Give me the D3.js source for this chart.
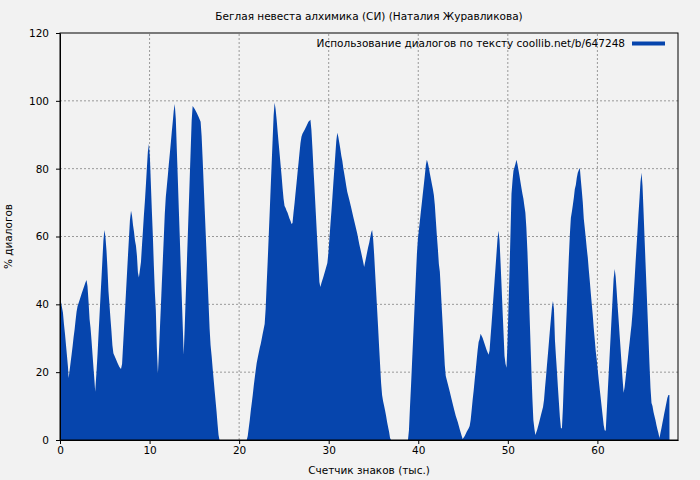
<!DOCTYPE html>
<html>
<head>
<meta charset="utf-8">
<script src="https://cdn.jsdelivr.net/npm/d3@7"></script>
<style>
body { margin: 0; background: #f2f2f2; }
text { font-family: "DejaVu Sans", sans-serif; fill: #000; }
.grid line { stroke: #999; stroke-dasharray: 2,2; stroke-width: 1; }
.axis path, .axis line { stroke: #000; }
</style>
</head>
<body>
<svg id="chart" width="700" height="480"></svg>
<script>
var title = "Беглая невеста алхимика (СИ) (Наталия Журавликова)";
var legendLabel = "Использование диалогов по тексту coollib.net/b/647248";
var xLabel = "Счетчик знаков (тыс.)";
var yLabel = "% диалогов";
var xTicks = [0, 10, 20, 30, 40, 50, 60];
var yTicks = [0, 20, 40, 60, 80, 100, 120];

// [тыс. знаков, % диалогов]
var points = [
	[0, 44.0], [0.11, 40.7], [0.33, 37.5], [0.44, 34.2], [0.56, 31.2], [0.67, 27.9], [0.78, 24.8], [0.89, 21.5],
	[0.96, 18.3], [1.07, 20.4], [1.19, 23], [1.30, 25.3], [1.41, 27.7], [1.52, 30.4], [1.63, 32.6], [1.74, 35.3],
	[1.85, 37.8], [1.96, 39.4], [2.19, 41.3], [2.41, 43.1], [2.63, 44.8], [2.85, 46.5], [2.96, 47.2], [3.07, 45.3],
	[3.19, 40.7], [3.30, 35.7], [3.41, 33], [3.52, 29.3], [3.63, 25.3], [3.74, 21.2], [3.85, 17.4], [3.93, 14.2],
	[4.07, 19.9], [4.19, 25.3], [4.30, 31], [4.41, 36.6], [4.52, 42.2], [4.63, 47.7], [4.74, 53.4], [4.85, 59],
	[4.96, 61.9], [5.07, 60], [5.19, 55.9], [5.30, 50.4], [5.41, 43.9], [5.52, 40], [5.63, 36], [5.74, 32.2],
	[5.85, 27.9], [5.96, 25.6], [6.19, 24.2], [6.41, 22.8], [6.63, 21.5], [6.81, 20.9], [6.93, 22.4], [7.04, 27.7],
	[7.15, 33], [7.26, 38.3], [7.37, 43.7], [7.48, 49.1], [7.59, 54.4], [7.70, 59.6], [7.81, 64.9], [7.93, 67.6],
	[8.04, 66.1], [8.15, 63.4], [8.26, 61.4], [8.37, 58.8], [8.48, 57.3], [8.59, 54.3], [8.70, 49.4], [8.81, 47.9],
	[9.04, 52.5], [9.15, 57.3], [9.26, 61.7], [9.37, 66.4], [9.48, 70.5], [9.59, 75.2], [9.70, 80.2], [9.81, 85],
	[9.93, 87.3], [10.04, 83.2], [10.15, 75.2], [10.26, 67.3], [10.37, 60], [10.48, 51.3], [10.59, 43.7], [10.70, 38.2],
	[10.81, 27.4], [10.93, 19.6], [11.04, 25.6], [11.15, 32.6], [11.26, 39.2], [11.37, 46.3], [11.48, 53], [11.59, 59.8],
	[11.70, 66.7], [11.81, 71.6], [11.93, 74.9], [12.04, 78], [12.15, 81.4], [12.26, 84.4], [12.37, 87.6], [12.48, 90.8],
	[12.59, 93.8], [12.70, 97.1], [12.81, 99.1], [12.93, 94.7], [13.04, 85.8], [13.15, 77.3], [13.26, 68.5], [13.37, 60],
	[13.48, 51.3], [13.59, 42.5], [13.70, 33.9], [13.81, 25.1], [13.93, 33.6], [14.04, 42.5], [14.15, 51], [14.26, 59.6],
	[14.37, 68.2], [14.48, 76.9], [14.59, 85.5], [14.70, 94.1], [14.81, 98.5], [15.04, 97.6], [15.26, 96.5], [15.48, 95.2],
	[15.70, 93.8], [15.81, 89.7], [15.93, 82.6], [16.04, 75.5], [16.15, 68.4], [16.26, 61.4], [16.37, 54.4], [16.48, 47.2],
	[16.59, 40.1], [16.70, 33], [16.81, 28], [16.93, 24.8], [17.04, 21.2], [17.15, 18], [17.26, 14.7], [17.37, 11.5],
	[17.48, 8.3], [17.59, 4.7], [17.70, 1.5], [17.81, 0],
	[20.85, 0], [20.96, 1.2], [21.07, 3.5], [21.19, 5.9], [21.30, 8.6], [21.41, 10.9], [21.52, 13.3], [21.63, 15.9], [21.74, 18.3],
	[21.85, 20.6], [21.96, 22.7], [22.07, 24.2], [22.19, 25.7], [22.30, 27.1], [22.41, 28.3], [22.52, 29.8], [22.63, 31.3],
	[22.74, 32.7], [22.85, 34.2], [22.96, 38.6], [23.07, 45.6], [23.19, 52.8], [23.30, 59.9], [23.41, 67], [23.52, 74.3],
	[23.63, 81.4], [23.74, 88.5], [23.85, 95.6], [23.96, 99.4], [24.07, 97.6], [24.19, 94.4], [24.30, 90.9], [24.41, 87.6],
	[24.52, 84.4], [24.63, 81.1], [24.74, 77.9], [24.85, 74.3], [24.96, 71.1], [25.07, 69], [25.19, 68.4], [25.30, 67.6],
	[25.41, 67], [25.52, 66.1], [25.63, 65.2], [25.74, 64.6], [25.85, 63.7], [25.96, 64], [26.07, 67], [26.19, 69.9],
	[26.30, 72.9], [26.41, 75.8], [26.52, 78.8], [26.63, 81.7], [26.74, 84.7], [26.85, 87.6], [26.96, 89.4], [27.07, 90.3],
	[27.30, 91.4], [27.52, 92.6], [27.74, 93.8], [27.96, 94.4], [28.07, 91.4], [28.19, 85.8], [28.30, 79.9], [28.41, 74.6],
	[28.52, 69], [28.63, 63.4], [28.74, 57.8], [28.85, 52.2], [28.96, 46.6], [29.07, 45.1], [29.19, 46.3], [29.41, 48.1],
	[29.63, 50.1], [29.85, 52.2], [29.96, 54.9], [30.07, 59], [30.19, 63.4], [30.30, 67.3], [30.41, 71.4], [30.52, 75.8],
	[30.63, 79.9], [30.74, 84.1], [30.85, 88.2], [30.96, 90.6], [31.07, 89.4], [31.19, 87.6], [31.30, 85.8], [31.41, 83.8],
	[31.52, 82.3], [31.63, 80.2], [31.74, 78.5], [31.85, 76.7], [31.96, 74.9], [32.07, 73.2], [32.30, 70.8], [32.52, 68.4],
	[32.74, 65.8], [32.96, 63.4], [33.19, 60.8], [33.41, 57.8], [33.63, 55.2], [33.85, 52.5], [33.96, 51], [34.07, 52.5],
	[34.19, 54], [34.30, 55.5], [34.41, 56.9], [34.52, 58.1], [34.63, 59.6], [34.74, 61.1], [34.85, 61.9], [34.96, 59.3],
	[35.07, 54.9], [35.19, 49], [35.30, 43.7], [35.41, 38.3], [35.52, 33], [35.63, 27.4], [35.74, 22.1], [35.85, 16.8],
	[35.96, 13.3], [36.07, 11.5], [36.19, 10], [36.30, 8.6], [36.41, 7.1], [36.52, 5.3], [36.63, 3.8], [36.74, 2.4],
	[36.85, 0.6], [36.96, 0],
	[38.85, 0], [38.96, 2.9], [39.07, 9.4], [39.19, 15.9], [39.30, 22.4], [39.41, 28.9], [39.52, 35.4], [39.63, 41.9], [39.74, 48.4],
	[39.85, 54.9], [39.96, 59.3], [40.07, 61.9], [40.19, 64.9], [40.30, 67.6], [40.41, 70.2], [40.52, 72.9], [40.63, 75.5],
	[40.74, 78.2], [40.85, 81.1], [40.96, 82.6], [41.07, 81.7], [41.19, 80.2], [41.30, 78.5], [41.41, 77], [41.52, 75.5],
	[41.63, 74], [41.74, 72.2], [41.85, 69.3], [41.96, 64.9], [42.07, 60.5], [42.19, 56.3], [42.30, 51.9], [42.41, 49.6],
	[42.52, 44.2], [42.63, 38.6], [42.74, 33.3], [42.85, 27.7], [42.96, 22.1], [43.07, 18.9], [43.30, 16.5], [43.52, 14.2],
	[43.74, 11.8], [43.96, 9.4], [44.19, 7.1], [44.41, 5.3], [44.63, 3.2], [44.85, 1.2], [44.96, 0.3], [45.19, 1.2],
	[45.41, 2.4], [45.63, 3.5], [45.74, 4.1], [45.85, 5.9], [45.96, 8.8], [46.07, 11.8], [46.19, 14.7], [46.30, 17.7],
	[46.41, 20.6], [46.52, 23.6], [46.63, 26.5], [46.74, 28.9], [46.85, 29.8], [46.96, 31.3], [47.19, 30.1], [47.41, 28.3],
	[47.63, 26.5], [47.85, 25.1], [47.96, 26.3], [48.07, 30.4], [48.19, 34.5], [48.30, 38.6], [48.41, 42.8], [48.52, 46.9],
	[48.63, 51], [48.74, 55.2], [48.85, 59.3], [48.96, 61.7], [49.07, 59], [49.19, 52.2], [49.30, 45.4], [49.41, 38.3],
	[49.52, 31.6], [49.63, 24.8], [49.74, 22.5], [49.85, 21.3], [49.96, 28.3], [50.07, 38.6], [50.19, 49.9], [50.30, 61.1],
	[50.41, 72.6], [50.52, 76.4], [50.63, 79.4], [50.85, 81.4], [50.96, 82.6], [51.07, 81.4], [51.19, 79.6], [51.30, 77.9],
	[51.41, 76.1], [51.52, 74.3], [51.63, 72.6], [51.74, 71.1], [51.85, 69], [51.96, 67], [52.07, 62.5], [52.19, 55.5],
	[52.30, 47.2], [52.41, 38.3], [52.52, 29.5], [52.63, 20.6], [52.74, 12.4], [52.85, 5.9], [52.96, 3.5], [53.07, 1.5],
	[53.26, 2.9], [53.48, 5], [53.70, 7.4], [53.93, 9.7], [54.04, 11.8], [54.15, 15.3], [54.26, 18.6], [54.37, 22.1],
	[54.48, 25.4], [54.59, 28.9], [54.70, 32.4], [54.81, 35.7], [54.93, 39.2], [55.04, 41], [55.15, 38.6], [55.26, 29.5],
	[55.37, 24.8], [55.48, 20.4], [55.59, 15.6], [55.70, 11.2], [55.81, 6.8], [55.93, 3.5], [56.04, 3.5], [56.15, 9.4], [56.26, 17.7],
	[56.37, 25.1], [56.48, 32.2], [56.59, 39.2], [56.70, 46.6], [56.81, 53.7], [56.93, 60.8], [57.04, 65.5], [57.15, 67.3],
	[57.26, 69.3], [57.37, 71.4], [57.48, 74], [57.59, 75.2], [57.70, 77.3], [57.81, 78.8], [57.93, 79.6], [58.04, 80.2],
	[58.15, 76.7], [58.26, 73.5], [58.37, 70], [58.48, 65.2], [58.59, 62.5], [58.70, 59.6], [58.81, 56.6], [58.93, 53.7],
	[59.04, 50.1], [59.15, 46.9], [59.26, 43.4], [59.37, 40.1], [59.48, 36.9], [59.59, 33], [59.70, 29.8], [59.81, 26.3],
	[59.93, 23.6], [60.04, 20.6], [60.15, 17.7], [60.26, 15], [60.37, 12.4], [60.48, 9.7], [60.59, 7.1], [60.70, 4.4],
	[60.81, 2.9], [60.93, 2.7], [61.04, 8.3], [61.15, 13.9], [61.26, 19.5], [61.37, 25.1], [61.48, 30.7], [61.59, 36.3],
	[61.70, 41.8], [61.81, 47.5], [61.93, 50.4], [62.04, 48.1], [62.15, 44], [62.26, 39.5], [62.37, 35.4], [62.48, 31],
	[62.59, 26.8], [62.70, 22.4], [62.81, 18], [62.93, 13.9], [63.04, 15.6], [63.15, 18.3], [63.26, 20.9], [63.37, 23.3],
	[63.48, 26], [63.59, 28.6], [63.70, 31.3], [63.81, 33.9], [63.93, 37.8], [64.04, 42.5], [64.15, 47.2], [64.26, 52.2],
	[64.37, 56.9], [64.48, 61.7], [64.59, 66.7], [64.70, 71.1], [64.81, 76.1], [64.93, 78.8], [65.04, 74.9], [65.15, 67.6],
	[65.26, 59.9], [65.37, 52.5], [65.48, 45.1], [65.59, 37.8], [65.70, 30.4], [65.81, 22.7], [65.93, 15.3], [66.04, 10.9],
	[66.15, 10], [66.26, 8.3], [66.37, 7.1], [66.48, 5.9], [66.59, 4.4], [66.70, 3.2], [66.81, 2.1], [66.93, 0.6],
	[67.04, 2.1], [67.15, 3.5], [67.26, 5], [67.37, 6.5], [67.48, 8], [67.59, 9.4], [67.70, 10.9], [67.81, 12.4],
	[67.93, 13.3], [68.04, 13.3], [68.05, 0]
];

var svg = d3.select("#chart");
var margin = {left: 60, right: 22, top: 33, bottom: 40};
var w = 700, h = 480;
var fs = "10.5px";

var x = d3.scaleLinear().domain([0, 69]).range([margin.left, w - margin.right]);
var y = d3.scaleLinear().domain([0, 120]).range([h - margin.bottom, margin.top]);

svg.append("rect").attr("width", w).attr("height", h).attr("fill", "#f2f2f2");

// сетка
var grid = svg.append("g").attr("class", "grid");
grid.selectAll("line.v").data(xTicks.slice(1)).enter().append("line")
	.attr("x1", function(d) { return x(d); }).attr("x2", function(d) { return x(d); })
	.attr("y1", y(0)).attr("y2", y(120));
grid.selectAll("line.h").data(yTicks.slice(1, -1)).enter().append("line")
	.attr("x1", x(0)).attr("x2", x(69))
	.attr("y1", function(d) { return y(d); }).attr("y2", function(d) { return y(d); });

var area = d3.area()
	.x(function(d) { return x(d[0]); })
	.y0(y(0))
	.y1(function(d) { return y(d[1]); });

svg.append("path").datum(points)
	.attr("d", area)
	.attr("fill", "#0645ad");

// рамка
svg.append("rect")
	.attr("x", x(0)).attr("y", y(120))
	.attr("width", x(69) - x(0)).attr("height", y(0) - y(120))
	.attr("fill", "none").attr("stroke", "#000");

svg.append("g").attr("class", "axis")
	.attr("transform", "translate(0," + y(0) + ")")
	.call(d3.axisBottom(x).tickValues(xTicks).tickSize(4).tickPadding(3).tickSizeOuter(0))
	.call(function(g) { g.selectAll("text").style("font-size", fs); });

svg.append("g").attr("class", "axis")
	.attr("transform", "translate(" + x(0) + ",0)")
	.call(d3.axisLeft(y).tickValues(yTicks).tickSize(4).tickPadding(7).tickSizeOuter(0))
	.call(function(g) { g.selectAll("text").style("font-size", fs); });

svg.append("text").attr("x", x(34.5)).attr("y", 20)
	.attr("text-anchor", "middle").style("font-size", fs).text(title);

svg.append("text").attr("x", x(34.5)).attr("y", 474)
	.attr("text-anchor", "middle").style("font-size", fs).text(xLabel);

svg.append("text").attr("transform", "translate(12," + y(60) + ") rotate(-90)")
	.attr("text-anchor", "middle").style("font-size", fs).text(yLabel);

// легенда
svg.append("text").attr("x", 625).attr("y", 46.5)
	.attr("text-anchor", "end").style("font-size", fs).text(legendLabel);
svg.append("line").attr("x1", 632).attr("x2", 665).attr("y1", 43.5).attr("y2", 43.5)
	.attr("stroke", "#0645ad").attr("stroke-width", 4);
</script>
</body>
</html>
